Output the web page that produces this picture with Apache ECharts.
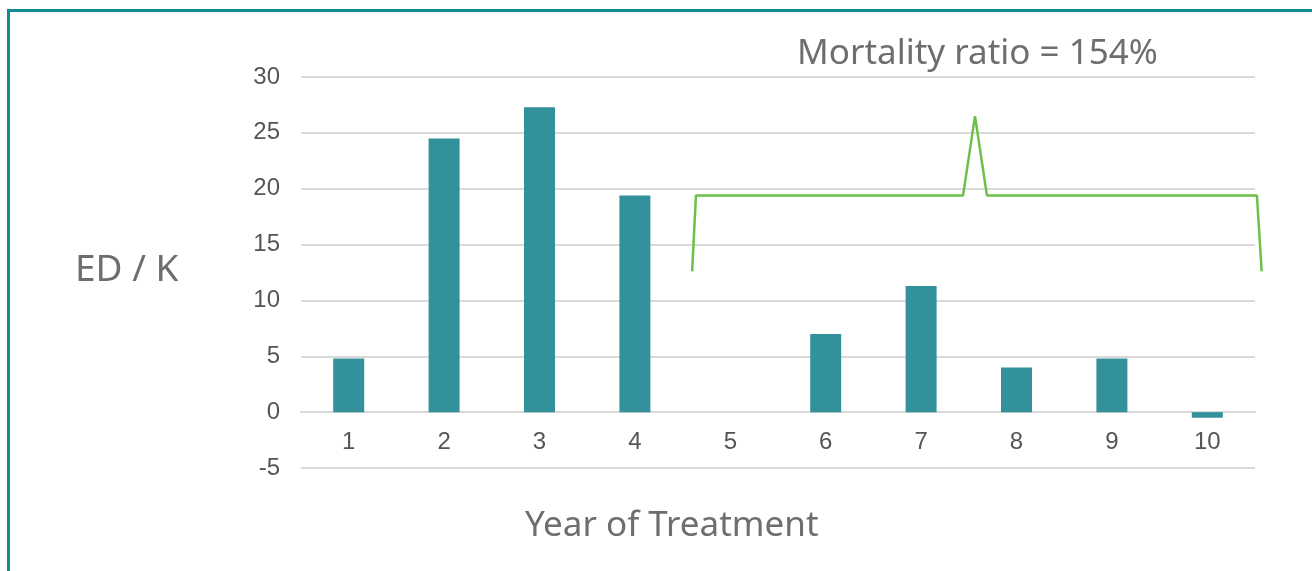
<!DOCTYPE html>
<html>
<head>
<meta charset="utf-8">
<script src="https://cdn.jsdelivr.net/npm/echarts@6/dist/echarts.min.js"></script>
<style>
  html, body { margin: 0; padding: 0; background: #ffffff; }
  #chart { width: 1312px; height: 571px; }
</style>
</head>
<body>
<div id="chart"></div>
<script>
// Years of treatment and excess deaths per thousand
const years = ['1', '2', '3', '4', '5', '6', '7', '8', '9', '10'];
const edPerK = [4.8, 24.5, 27.3, 19.4, 0, 7.0, 11.3, 4.0, 4.8, -0.5];
const yTicks = [-5, 0, 5, 10, 15, 20, 25, 30];

// Brace over years 5-10 (x in category-width units, y in ED/K units)
const braceX = [4.10, 4.14, 6.94, 7.065, 7.19, 10.02, 10.07];
const braceY = [12.6, 19.4, 19.4, 26.5, 19.4, 19.4, 12.6];

const titleText = 'Mortality ratio = 154%';
const yName = 'ED / K';
const xName = 'Year of Treatment';

const chart = echarts.init(document.getElementById('chart'), null, { renderer: 'canvas' });

const textGray = '#6e6e6e';
const tickGray = '#555555';
const gridGray = '#d9d9d9';
const tickFont = '"Liberation Sans", Arial, sans-serif';

// main plot area, and an overlay sharing its left edge and vertical scale
// but reaching a little further right so the brace tail is not clipped
const plotLeft = 301, plotRight = 57, plotTop = 77, plotBottom = 103;
const plotHeight = 571 - plotTop - plotBottom;
const catWidth = (1312 - plotLeft - plotRight) / years.length;
const braceMax = 10.5;
const braceRight = 1312 - plotLeft - catWidth * braceMax;
const yMin = yTicks[0], yMax = yTicks[yTicks.length - 1];
// lift the category axis from the bottom edge up to the zero line
const zeroOffset = -(0 - yMin) * plotHeight / (yMax - yMin);

chart.setOption({
  animation: false,
  backgroundColor: '#ffffff',
  grid: [
    { left: plotLeft, right: plotRight, top: plotTop, bottom: plotBottom },
    { left: plotLeft, right: braceRight, top: plotTop, bottom: plotBottom }
  ],
  xAxis: [
    {
      type: 'category',
      gridIndex: 0,
      data: years,
      offset: zeroOffset,
      axisLine: { show: true, onZero: false, lineStyle: { color: gridGray, width: 2 } },
      axisTick: { show: false },
      axisLabel: { color: tickGray, fontFamily: tickFont, fontSize: 24, margin: 18 }
    },
    {
      type: 'value',
      gridIndex: 1,
      min: 0,
      max: braceMax,
      show: false
    }
  ],
  yAxis: [
    {
      type: 'value',
      gridIndex: 0,
      min: yMin,
      max: yMax,
      interval: 5,
      axisLine: { show: false },
      axisTick: { show: false },
      splitLine: { lineStyle: { color: gridGray, width: 2 } },
      axisLabel: { color: tickGray, fontFamily: tickFont, fontSize: 24, margin: 21 }
    },
    {
      type: 'value',
      gridIndex: 1,
      min: yMin,
      max: yMax,
      show: false
    }
  ],
  series: [
    {
      type: 'bar',
      data: edPerK,
      xAxisIndex: 0,
      yAxisIndex: 0,
      barWidth: 31,
      itemStyle: { color: '#32919b' }
    },
    {
      type: 'line',
      xAxisIndex: 1,
      yAxisIndex: 1,
      data: braceX.map((x, i) => [x, braceY[i]]),
      symbol: 'none',
      lineStyle: { color: '#6cc04a', width: 2.5 }
    }
  ],
  graphic: [
    // frame
    { type: 'rect', shape: { x: 7, y: 9, width: 3, height: 562 }, style: { fill: '#0f8b93' } },
    { type: 'rect', shape: { x: 7, y: 9, width: 1305, height: 3 }, style: { fill: '#0f8b93' } },
    {
      type: 'text', left: 797, top: 37,
      style: { text: titleText, fill: textGray, font: '35px "Noto Sans", sans-serif' }
    },
    {
      type: 'text', left: 75, top: 252,
      style: { text: yName, fill: textGray, font: '37px "Noto Sans", sans-serif' }
    },
    {
      type: 'text', left: 525, top: 509,
      style: { text: xName, fill: textGray, font: '35px "Noto Sans", sans-serif' }
    }
  ]
});
</script>
</body>
</html>
